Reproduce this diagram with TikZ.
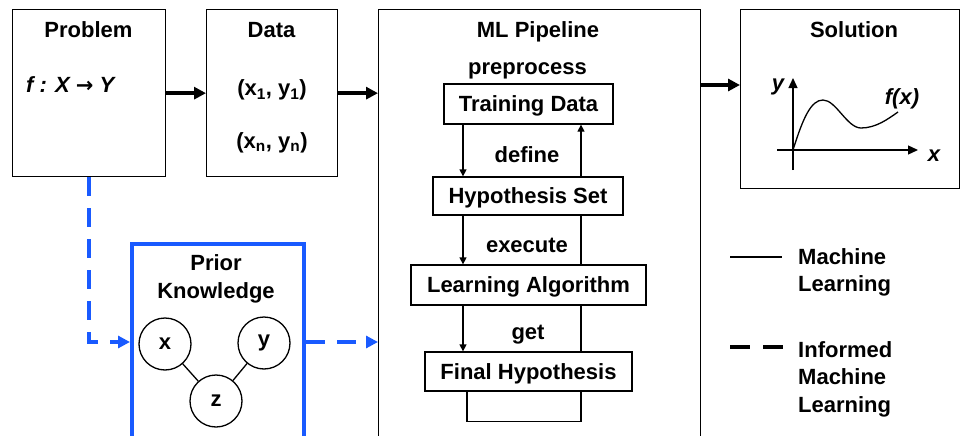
\documentclass[tikz,border=0pt]{standalone}
\usepackage{fontspec}
\setmainfont{Liberation Sans}
\newfontfamily\djv{DejaVu Sans}
\usetikzlibrary{arrows.meta,backgrounds}
\definecolor{pkblue}{RGB}{25,90,255}
\begin{document}
\begin{tikzpicture}[x=1pt,y=-1pt,
  box/.style={draw, line width=1.3pt, anchor=north west, inner sep=0pt},
  lbl/.style={font=\fontsize{22}{27}\selectfont\bfseries, inner sep=0pt, text height=15.75pt, text depth=0pt},
  ibox/.style={draw, fill=white, line width=1.3pt, inner sep=0pt, font=\fontsize{22}{27}\selectfont\bfseries, text height=15.75pt, text depth=0pt},
  leg/.style={font=\fontsize{22}{27.5}\selectfont\bfseries, inner sep=0pt, align=left, anchor=north west},
  circ/.style={draw, circle, line width=1.3pt, minimum size=52pt, inner sep=0pt, font=\fontsize{22}{27}\selectfont\bfseries},
  thk/.style={line width=3.5pt, -{Triangle[length=12pt,width=12pt]}},
  fl/.style={line width=1.3pt, -{Triangle[length=7pt,width=7pt]}},
  bd/.style={pkblue, line width=4pt, dash pattern=on 19pt off 12pt, -{Triangle[length=12pt,width=12pt]}},
  ax/.style={line width=1.3pt, -{Triangle[length=10pt,width=9pt]}}]
\useasboundingbox (0,0) rectangle (961,436);

% main boxes
\node[box, minimum width=153pt, minimum height=167pt] (prob) at (12,9) {};
\node[box, minimum width=131pt, minimum height=167pt] (data) at (206,9) {};
\node[box, minimum width=322pt, minimum height=440pt] (ml) at (378,9) {};
\node[box, minimum width=219pt, minimum height=179pt] (sol) at (740,9) {};
\node[box, draw=pkblue, line width=4pt, minimum width=172pt, minimum height=220pt] (prior) at (130,242) {};

% titles
\node[lbl] (probT) at (88.5,29.5) {Problem};
\node[lbl] (dataT) at (271.5,29.5) {Data};
\node[lbl] (mlT) at (538,29.5) {ML Pipeline};
\node[lbl] (solT) at (854,29.5) {Solution};

% problem / data texts
\node[lbl, anchor=west, font=\fontsize{22}{27}\selectfont\bfseries\itshape] (fxy) at (26,85) {f : X {\djv\bfseries\upshape\fontsize{21}{27}\selectfont →} Y};
\node[lbl] (d1) at (272,88) {(x\textsubscript{1}, y\textsubscript{1})};
\node[lbl] (d2) at (272,141) {(x\textsubscript{n}, y\textsubscript{n})};

% pipeline
\node[ibox, minimum width=169pt, minimum height=40pt] (td) at (528.5,104) {Training Data};
\node[ibox, minimum width=190pt, minimum height=38pt] (hs) at (528,196) {Hypothesis Set};
\node[ibox, minimum width=235pt, minimum height=40pt] (la) at (528.5,285) {Learning Algorithm};
\node[ibox, minimum width=207pt, minimum height=39pt] (fh) at (528.5,371.5) {Final Hypothesis};
\node[lbl] (pre) at (527.5,67) {preprocess};
\node[lbl] (def) at (527,154.5) {define};
\node[lbl] (exe) at (527,245) {execute};
\node[lbl] (get) at (528,332) {get};

\coordinate (lx) at (463,0);
\coordinate (rx) at (581,0);
\coordinate (bx) at (467,0);
\draw[fl] (td.south -| lx) -- (hs.north -| lx);
\draw[fl] (hs.south -| lx) -- (la.north -| lx);
\draw[fl] (la.south -| lx) -- (fh.north -| lx);
\begin{pgfonlayer}{background}
\draw[fl] (fh.south -| bx) -- ++(0,30) -| (td.south -| rx);
\end{pgfonlayer}

% main arrows
\draw[thk] (prob.east) -- (data.west);
\draw[thk] (data.east) -- (data.east -| ml.west);
\draw[thk] ([yshift=-76pt]ml.north east) -- ([yshift=-76pt]sol.north west);

% solution graph
\coordinate (yb) at (793,170);
\coordinate (yt) at (793,78);
\coordinate (xl) at (777,150);
\coordinate (xr) at (918,150);
\draw[ax] (yb) -- (yt);
\draw[ax] (xl) -- (xr);
\draw[line width=1.3pt] (793,150) .. controls (803,118) and (811,100) .. (823,100)
  .. controls (836,100) and (847,128) .. (861,128)
  .. controls (876,128) and (888,119) .. (898,112);
\node[font=\fontsize{22}{27}\selectfont\bfseries\itshape, inner sep=0pt] (ylab) at (778,87) {y};
\node[font=\fontsize{22}{27}\selectfont\bfseries\itshape, inner sep=0pt] (xlab) at (934,156) {x};
\node[font=\fontsize{22}{27}\selectfont\bfseries\itshape, inner sep=0pt] (flab) at (902,99) {f(x)};

% prior knowledge
\node[lbl] (pk1) at (216,263) {Prior};
\node[lbl] (pk2) at (216,291) {Knowledge};
\node[circ] (cx) at (165,344) {x};
\node[circ] (cy) at (264,343) {y};
\node[circ] (cz) at (216,401) {z};
\draw[line width=1.3pt] (cx) -- (cz);
\draw[line width=1.3pt] (cy) -- (cz);

% dashed informed connectors
\coordinate (dl) at (prior.west |- 0,342);
\coordinate (dr) at (ml.west |- 0,342);
\draw[bd] (prob.south) |- (dl);
\draw[bd] (dl -| prior.east) -- (dr);

% legend
\coordinate (l1a) at (730,257);
\coordinate (l1b) at (782,257);
\coordinate (l2a) at (730,347);
\coordinate (l2b) at (783,347);
\draw[line width=1.3pt] (l1a) -- (l1b);
\draw[line width=4pt, dash pattern=on 20pt off 13pt] (l2a) -- (l2b);
\node[leg] (lg1) at (798,248) {Machine\\Learning};
\node[leg] (lg2) at (798,341) {Informed\\Machine\\Learning};
\end{tikzpicture}
\end{document}
